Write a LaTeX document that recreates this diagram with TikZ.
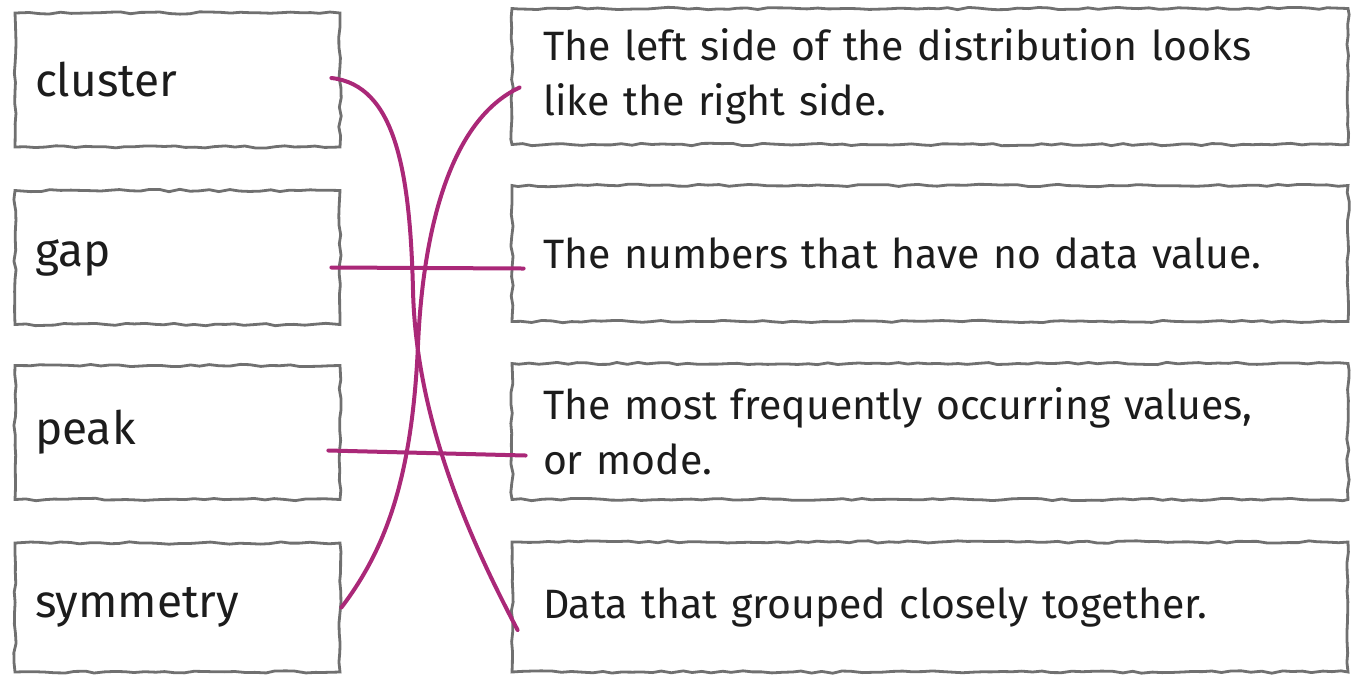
\documentclass[tikz,border=0pt]{standalone}
\usepackage{fontspec}
\setmainfont{Fira Sans}
\usetikzlibrary{calc, decorations.pathmorphing}
\definecolor{linkpink}{RGB}{170,40,120}
\definecolor{boxgray}{RGB}{112,112,112}
\definecolor{inkgray}{RGB}{28,28,28}

\begin{document}
\begin{tikzpicture}[
    x=0.5pt, y=-0.5pt,
    card/.style={rectangle, draw=boxgray, line width=1.4pt, decorate, decoration={random steps, segment length=5pt, amplitude=0.6pt}, text=inkgray, align=left, inner ysep=0pt},
    lbox/.style={card, font=\fontsize{23}{27.5}\selectfont, text width=142.5pt, inner xsep=10pt, minimum height=67pt},
    rbox/.style={card, font=\fontsize{20.5}{27.5}\selectfont, text width=387pt, inner xsep=15.5pt, minimum height=68pt},
    link/.style={draw=linkpink, line width=2pt, line cap=round},
]
\pgfmathsetseed{7}
\useasboundingbox (0,0) rectangle (1361,677);

% terms
\node[lbox] (cluster) at (177.5,80) {cluster};
\node[lbox] (gap) at (177.5,257.5) {gap};
\node[lbox] (peak) at (177.5,432.5) {peak};
\node[lbox, minimum height=64.5pt] (symmetry) at (177.5,607.5) {symmetry};

% meanings
\node[rbox] (same) at (930,76.5) {The left side of the distribution looks\\like the right side.};
\node[rbox] (empty) at (930,253.5) {The numbers that have no data value.};
\node[rbox] (mode) at (930,431.5) {The most frequently occurring values,\\or mode.};
\node[rbox, minimum height=65pt] (group) at (930,607) {Data that grouped closely together.};

% matches
\draw[link] ($(cluster.east)+(-10,-2)$) .. controls (395,85) and (410,170) .. (413,290)
    .. controls (416,420) and (470,540) .. ($(group.west)+(7,23)$);
\draw[link] (symmetry.east) .. controls (385,550) and (412,480) .. (418,345)
    .. controls (423,230) and (450,120) .. ($(same.west)+(9,11)$);
\draw[link] ($(gap.east)+(-10,10)$) -- ($(empty.west)+(13,15)$);
\draw[link] ($(peak.east)+(-13,18)$) -- ($(mode.west)+(15,24)$);
\end{tikzpicture}
\end{document}
